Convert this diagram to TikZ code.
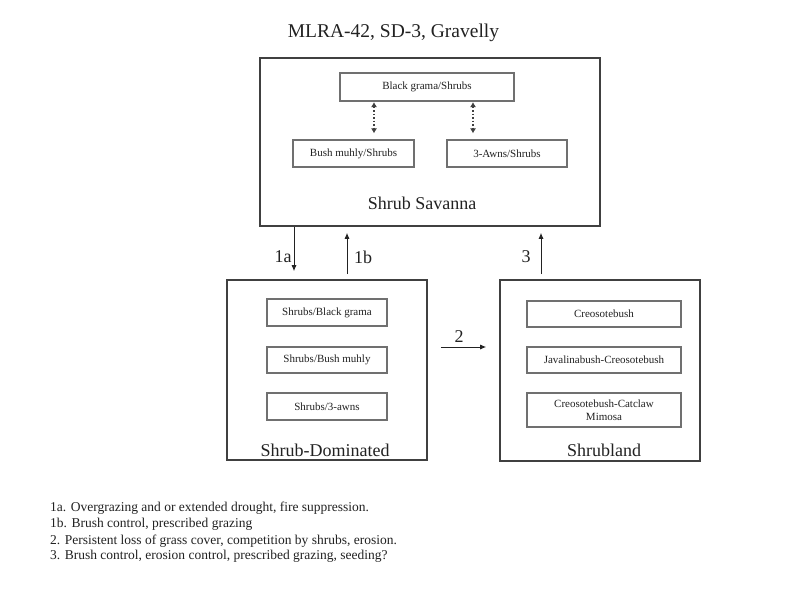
\documentclass[tikz,border=0pt]{standalone}
\usepackage{fontspec}
\setmainfont{Liberation Serif}
\usetikzlibrary{arrows.meta}
\definecolor{boxgray}{HTML}{404040}
\definecolor{innergray}{HTML}{707070}
\definecolor{txt}{HTML}{222222}
\tikzset{
  outerbox/.style={draw=boxgray, line width=1.6pt, inner sep=0pt},
  innerbox/.style={draw=innergray, line width=1.1pt, inner sep=0pt, align=center,
    text=txt, font=\fontsize{11}{12.5}\selectfont},
  bigtext/.style={text=txt, font=\fontsize{18}{20}\selectfont, inner sep=0pt},
  notetext/.style={text=txt, font=\fontsize{13.5}{15}\selectfont, inner sep=0pt, anchor=base west},
  arr/.style={draw=txt, line width=0.9pt, -{Latex[length=6pt,width=5pt]}},
  dotarr/.style={draw=boxgray, line width=1.3pt, dash pattern=on 1.5pt off 2pt,
    {Latex[length=5pt,width=6pt]}-{Latex[length=5pt,width=6pt]}}
}
\begin{document}
\begin{tikzpicture}[x=1pt,y=-1pt]
\useasboundingbox[fill=white] (0,0) rectangle (800,600);

% title
\node[text=txt, font=\fontsize{19.5}{22}\selectfont, inner sep=0pt] (title) at (393.5,33) {MLRA-42, SD-3, Gravelly};

% Shrub Savanna
\node[outerbox, minimum width=340pt, minimum height=168pt] (ss) at (430,142) {};
\node[innerbox, minimum width=174pt, minimum height=28pt] (bg) at (427,87) {Black grama/Shrubs};
\node[innerbox, minimum width=121pt, minimum height=27pt] (bm) at (353.5,153.5) {Bush muhly/Shrubs};
\node[innerbox, minimum width=120pt, minimum height=27pt] (aw) at (507,153.5) {3-Awns/Shrubs};
\node[bigtext] (sst) at (422,203) {Shrub Savanna};
\coordinate (d1) at (374,0);
\coordinate (d2) at (473,0);
\draw[dotarr, shorten <=0.5pt, shorten >=6pt] (bg.south -| d1) -- (bm.north -| d1);
\draw[dotarr, shorten <=0.5pt, shorten >=6pt] (bg.south -| d2) -- (aw.north -| d2);

% Shrub-Dominated
\node[outerbox, minimum width=200pt, minimum height=180pt] (sd) at (327,370) {};
\node[innerbox, minimum width=120pt, minimum height=27pt] (sd1) at (327,312.5) {Shrubs/Black grama};
\node[innerbox, minimum width=120pt, minimum height=26pt] (sd2) at (327,360) {Shrubs/Bush muhly};
\node[innerbox, minimum width=120pt, minimum height=27pt] (sd3) at (327,406.5) {Shrubs/3-awns};
\node[bigtext] (sdt) at (325,450) {Shrub-Dominated};

% Shrubland
\node[outerbox, minimum width=200pt, minimum height=181pt] (sl) at (600,370.5) {};
\node[innerbox, minimum width=154pt, minimum height=26pt] (sl1) at (604,314) {Creosotebush};
\node[innerbox, minimum width=154pt, minimum height=26pt] (sl2) at (604,360) {Javalinabush-Creosotebush};
\node[innerbox, minimum width=154pt, minimum height=34pt] (sl3) at (604,410) {Creosotebush-Catclaw\\Mimosa};
\node[bigtext] (slt) at (604,450) {Shrubland};

% transitions
\coordinate (x1a) at (294,0);
\coordinate (x1b) at (347,0);
\coordinate (x3) at (541,0);
\coordinate (y2) at (0,347);
\draw[arr, shorten >=8pt] (ss.south -| x1a) -- (sd.north -| x1a);
\draw[arr, shorten <=5pt, shorten >=6pt] (sd.north -| x1b) -- (ss.south -| x1b);
\draw[arr, shorten <=5pt, shorten >=6pt] (sl.north -| x3) -- (ss.south -| x3);
\draw[arr, shorten <=13pt, shorten >=13pt] (sd.east |- y2) -- (sl.west |- y2);
\node[bigtext] (l1a) at (283,257) {1a};
\node[bigtext] (l1b) at (363,257) {1b};
\node[bigtext] (l3) at (526,257) {3};
\node[bigtext] (l2) at (459,337) {2};

% notes
\node[notetext] (n1) at (50,511) {1a. Overgrazing and or extended drought, fire suppression.};
\node[notetext] (n2) at (50,527) {1b. Brush control, prescribed grazing};
\node[notetext] (n3) at (50,544) {2. Persistent loss of grass cover, competition by shrubs, erosion.};
\node[notetext] (n4) at (50,559) {3. Brush control, erosion control, prescribed grazing, seeding?};
\end{tikzpicture}
\end{document}
